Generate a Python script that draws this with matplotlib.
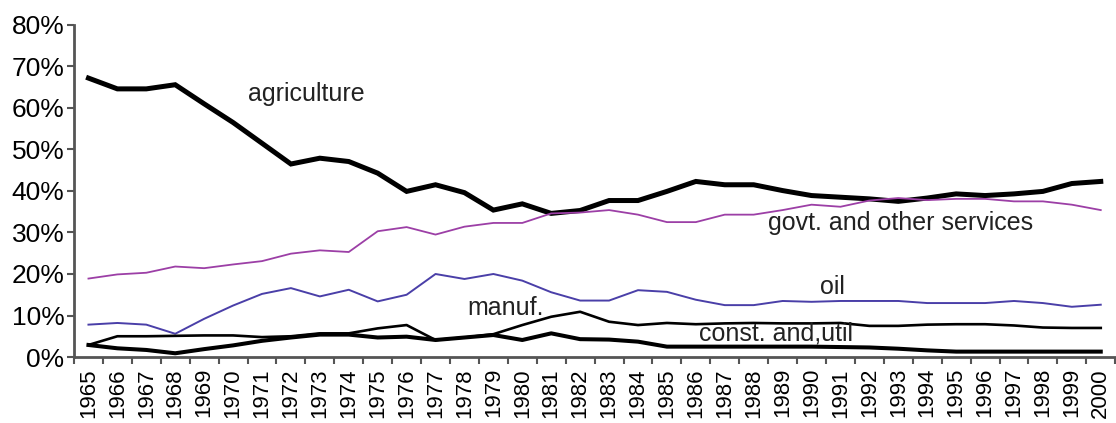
import matplotlib
matplotlib.use('Agg')
import matplotlib.pyplot as plt
from matplotlib.ticker import FixedLocator, FuncFormatter

# Sector shares of output (%), 1965-2000
years = list(range(1965, 2001))

agriculture = [67.2, 64.6, 64.6, 65.6, 61.0, 56.5, 51.5, 46.5, 47.9, 47.1,
               44.3, 39.9, 41.5, 39.6, 35.4, 36.9, 34.6, 35.3, 37.7, 37.7,
               39.9, 42.3, 41.5, 41.5, 40.1, 38.9, 38.5, 38.1, 37.5, 38.3,
               39.3, 38.9, 39.3, 39.9, 41.8, 42.3]

govt = [18.9, 19.9, 20.3, 21.8, 21.4, 22.3, 23.1, 24.9, 25.7, 25.3,
        30.3, 31.3, 29.5, 31.4, 32.3, 32.3, 34.6, 34.8, 35.4, 34.3,
        32.5, 32.5, 34.3, 34.3, 35.4, 36.7, 36.2, 37.7, 38.3, 37.8,
        38.1, 38.1, 37.5, 37.5, 36.7, 35.4]

oil = [7.8, 8.2, 7.8, 5.6, 9.2, 12.4, 15.2, 16.6, 14.6, 16.2,
       13.4, 15.0, 20.0, 18.8, 20.0, 18.4, 15.6, 13.6, 13.6, 16.1,
       15.7, 13.8, 12.5, 12.5, 13.5, 13.3, 13.5, 13.5, 13.5, 13.0,
       13.0, 13.0, 13.5, 13.0, 12.1, 12.6]

manuf = [2.9, 5.0, 5.0, 5.1, 5.2, 5.2, 4.8, 5.0, 5.7, 5.7,
         6.9, 7.7, 4.1, 4.7, 5.5, 7.7, 9.7, 10.9, 8.5, 7.7,
         8.2, 7.9, 8.1, 8.2, 8.1, 8.1, 8.2, 7.5, 7.5, 7.8,
         7.9, 7.9, 7.6, 7.1, 7.0, 7.0]

const = [2.9, 2.1, 1.7, 0.9, 1.9, 2.8, 3.9, 4.7, 5.4, 5.4,
         4.7, 4.9, 4.1, 4.7, 5.3, 4.1, 5.7, 4.3, 4.2, 3.7,
         2.5, 2.5, 2.5, 2.5, 2.5, 2.5, 2.4, 2.3, 2.0, 1.6,
         1.3, 1.3, 1.3, 1.3, 1.3, 1.3]

plt.rcParams['font.family'] = ['Liberation Sans', 'DejaVu Sans']

fig = plt.figure(figsize=(11.16, 4.23), dpi=100)
ax = fig.add_axes([0.0663, 0.156, 0.933, 0.785])

x = list(range(len(years)))
ax.plot(x, agriculture, color='black', lw=3.6, solid_joinstyle='miter')
ax.plot(x, govt, color='#9c3fa6', lw=1.3)
ax.plot(x, oil, color='#4a3fa8', lw=1.4)
ax.plot(x, manuf, color='black', lw=1.9)
ax.plot(x, const, color='black', lw=2.9)

# labels placed beside their lines
txt = dict(fontsize=18, color='#222222', va='center', ha='left')
ax.text(5.5, 63.3, 'agriculture', **txt)
ax.text(23.5, 32.4, 'govt. and other services', **txt)
ax.text(25.3, 16.8, 'oil', **txt)
ax.text(13.1, 11.8, 'manuf.', **txt)
ax.text(21.1, 5.7, 'const. and,util', **txt)

ax.set_xlim(-0.5, len(years) - 0.5)
ax.set_ylim(0, 80)

ax.set_xticks(x)
ax.set_xticklabels([str(y) for y in years], rotation=90, fontsize=16)
ax.xaxis.set_minor_locator(FixedLocator([i - 0.5 for i in range(len(years) + 1)]))
ax.tick_params(axis='x', which='major', length=0, pad=8)
ax.tick_params(axis='x', which='minor', length=5, width=1.5, color='#555555')

ax.set_yticks(range(0, 81, 10))
ax.yaxis.set_major_formatter(FuncFormatter(lambda v, p: f'{int(v)}%'))
ax.tick_params(axis='y', length=5, width=1.5, color='#555555', labelsize=19, pad=2)

for side in ['top', 'right']:
    ax.spines[side].set_visible(False)
for side in ['left', 'bottom']:
    ax.spines[side].set_color('#555555')
    ax.spines[side].set_linewidth(2)

fig.savefig('out.png', dpi=100)
